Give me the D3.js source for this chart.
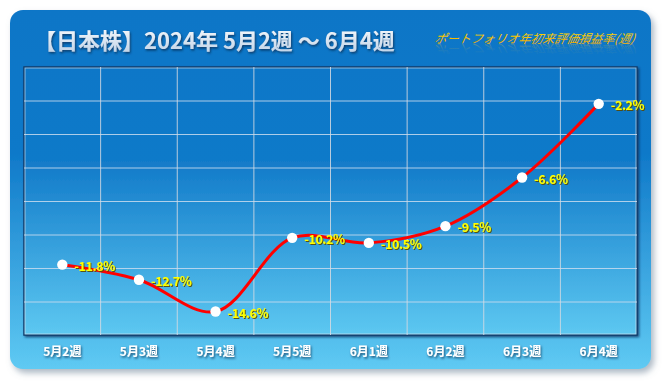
<!DOCTYPE html>
<html>
<head>
<meta charset="utf-8">
<script src="https://cdn.jsdelivr.net/npm/d3@7"></script>
<style>
  html, body { margin: 0; padding: 0; background: #ffffff; }
  svg { display: block; }
</style>
</head>
<body>
<div id="chart"></div>
<script>
const categories = ["5月2週", "5月3週", "5月4週", "5月5週", "6月1週", "6月2週", "6月3週", "6月4週"];
const values = [-11.8, -12.7, -14.6, -10.2, -10.5, -9.5, -6.6, -2.2];
const yTicks = [-16, -14, -12, -10, -8, -6, -4, -2, 0];
const titleText = "【日本株】2024年 5月2週 ～ 6月4週";
const subtitleText = "ポートフォリオ年初来評価損益率(週)";

const W = 666, H = 384;
const plot = { left: 24, right: 637, top: 67, bottom: 335 };

const svg = d3.select("#chart").append("svg")
  .attr("width", W).attr("height", H);

const defs = svg.append("defs");

const cg = defs.append("linearGradient").attr("id", "cardGrad")
  .attr("x1", 0).attr("y1", 0).attr("x2", 0).attr("y2", 1);
cg.append("stop").attr("offset", "0%").attr("stop-color", "#0c76c7");
cg.append("stop").attr("offset", "40%").attr("stop-color", "#0f79c9");
cg.append("stop").attr("offset", "100%").attr("stop-color", "#5fcaf3");

const pg = defs.append("linearGradient").attr("id", "plotGrad")
  .attr("x1", 0).attr("y1", 0).attr("x2", 0).attr("y2", 1);
pg.append("stop").attr("offset", "0%").attr("stop-color", "#0e77c8");
pg.append("stop").attr("offset", "35%").attr("stop-color", "#117ac9");
pg.append("stop").attr("offset", "100%").attr("stop-color", "#5dc8f1");

const tg = defs.append("linearGradient").attr("id", "titleGrad")
  .attr("x1", 0).attr("y1", 0).attr("x2", 0).attr("y2", 1);
tg.append("stop").attr("offset", "0%").attr("stop-color", "#ffffff");
tg.append("stop").attr("offset", "100%").attr("stop-color", "#bcd0e6");

const sg = defs.append("linearGradient").attr("id", "subGrad")
  .attr("x1", 0).attr("y1", 0).attr("x2", 0).attr("y2", 1);
sg.append("stop").attr("offset", "0%").attr("stop-color", "#ffe400");
sg.append("stop").attr("offset", "100%").attr("stop-color", "#f0a000");

const rg = defs.append("linearGradient").attr("id", "reflGrad")
  .attr("x1", 0).attr("y1", 0).attr("x2", 0).attr("y2", 1);
rg.append("stop").attr("offset", "0%").attr("stop-color", "#e8c040").attr("stop-opacity", 0);
rg.append("stop").attr("offset", "50%").attr("stop-color", "#e8c040").attr("stop-opacity", 0.08);
rg.append("stop").attr("offset", "100%").attr("stop-color", "#e8c040").attr("stop-opacity", 0.45);

const cs = defs.append("filter").attr("id", "cardShadow")
  .attr("x", "-5%").attr("y", "-5%").attr("width", "115%").attr("height", "115%");
cs.append("feDropShadow").attr("dx", 3).attr("dy", 4).attr("stdDeviation", 3)
  .attr("flood-color", "#6a7f95").attr("flood-opacity", 0.55);

const ts = defs.append("filter").attr("id", "textShadow")
  .attr("x", "-10%").attr("y", "-30%").attr("width", "120%").attr("height", "160%");
ts.append("feDropShadow").attr("dx", 1).attr("dy", 1.5).attr("stdDeviation", 1)
  .attr("flood-color", "#0a2a50").attr("flood-opacity", 0.8);

const ls = defs.append("filter").attr("id", "labelShadow")
  .attr("x", "-10%").attr("y", "-30%").attr("width", "120%").attr("height", "160%");
ls.append("feDropShadow").attr("dx", 1).attr("dy", 1).attr("stdDeviation", 0.6)
  .attr("flood-color", "#5a4a00").attr("flood-opacity", 0.9);

const ps = defs.append("filter").attr("id", "plotShadow")
  .attr("x", "-5%").attr("y", "-5%").attr("width", "110%").attr("height", "110%");
ps.append("feDropShadow").attr("dx", 1.5).attr("dy", 1.5).attr("stdDeviation", 1)
  .attr("flood-color", "#0a3060").attr("flood-opacity", 0.8);

// card
svg.append("rect")
  .attr("x", 10).attr("y", 10).attr("width", 641).attr("height", 359)
  .attr("rx", 13).attr("ry", 13)
  .attr("fill", "url(#cardGrad)")
  .attr("filter", "url(#cardShadow)");

// title
svg.append("text")
  .attr("x", 34).attr("y", 49)
  .attr("font-family", "'Noto Sans CJK JP', sans-serif")
  .attr("font-weight", "bold")
  .attr("font-size", 22)
  .attr("fill", "url(#titleGrad)")
  .attr("filter", "url(#textShadow)")
  .text(titleText);

// subtitle with reflection
const subY = 43;
const sub = svg.append("g");
sub.append("text")
  .attr("x", 434).attr("y", subY)
  .attr("font-family", "'Noto Sans CJK JP', sans-serif")
  .attr("font-style", "italic")
  .attr("font-size", 12)
  .attr("fill", "url(#subGrad)")
  .attr("transform", `skewX(-12) translate(${subY * Math.tan(12 * Math.PI / 180)},0)`)
  .text(subtitleText);
sub.append("text")
  .attr("x", 434).attr("y", subY)
  .attr("font-family", "'Noto Sans CJK JP', sans-serif")
  .attr("font-style", "italic")
  .attr("font-size", 12)
  .attr("fill", "url(#reflGrad)")
  .attr("transform", `translate(0,${2 * subY + 1}) scale(1,-1) skewX(-12) translate(${subY * Math.tan(12 * Math.PI / 180)},0)`)
  .text(subtitleText);

// scales
const x = d3.scaleBand().domain(categories).range([plot.left, plot.right]).padding(0);
const y = d3.scaleLinear().domain([-16, 0]).range([plot.bottom, plot.top]);
const cx = d => x(d) + x.bandwidth() / 2;

// plot background
svg.append("rect")
  .attr("x", plot.left).attr("y", plot.top)
  .attr("width", plot.right - plot.left).attr("height", plot.bottom - plot.top)
  .attr("fill", "url(#plotGrad)")
  .attr("stroke", "#123e6c").attr("stroke-width", 1.5)
  .attr("filter", "url(#plotShadow)");

// horizontal grid
const gy = svg.append("g")
  .attr("transform", `translate(${plot.left},0)`)
  .call(d3.axisLeft(y).tickValues(yTicks.slice(1, -1)).tickSize(-(plot.right - plot.left)).tickFormat(""));
gy.select(".domain").remove();
gy.selectAll("line").attr("stroke", "#c9dcee").attr("stroke-opacity", 0.85).attr("stroke-width", 1);

// vertical grid
const gx = svg.append("g")
  .attr("transform", `translate(0,${plot.bottom})`)
  .call(d3.axisBottom(x).tickSize(-(plot.bottom - plot.top)).tickFormat(""));
gx.select(".domain").remove();
gx.selectAll(".tick").attr("transform", d => `translate(${x(d)},0)`);
gx.selectAll(".tick").filter((d, i) => i === 0).remove();
gx.selectAll("line").attr("stroke", "#d6dbe2").attr("stroke-opacity", 0.85).attr("stroke-width", 1);

// plot border (light inner)
svg.append("rect")
  .attr("x", plot.left + 1).attr("y", plot.top + 1)
  .attr("width", plot.right - plot.left - 2).attr("height", plot.bottom - plot.top - 2)
  .attr("fill", "none")
  .attr("stroke", "#dfe8f2").attr("stroke-opacity", 0.6).attr("stroke-width", 1);

// x labels
const xa = svg.append("g")
  .attr("transform", `translate(0,${plot.bottom})`)
  .call(d3.axisBottom(x).tickSize(0).tickPadding(0));
xa.select(".domain").remove();
xa.selectAll("text")
  .attr("y", 21)
  .attr("dy", 0)
  .attr("font-family", "'Noto Sans CJK JP', sans-serif")
  .attr("font-weight", "bold")
  .attr("font-size", 12)
  .attr("fill", "#ffffff")
  .attr("filter", "url(#textShadow)");

// line
const data = categories.map((c, i) => ({ c, v: values[i] }));
const line = d3.line()
  .x(d => cx(d.c))
  .y(d => y(d.v))
  .curve(d3.curveCatmullRom.alpha(0.5));

svg.append("path")
  .datum(data)
  .attr("d", line)
  .attr("fill", "none")
  .attr("stroke", "#ff0000")
  .attr("stroke-width", 3)
  .attr("stroke-linejoin", "round");

// points
svg.append("g").selectAll("circle")
  .data(data).join("circle")
  .attr("cx", d => cx(d.c))
  .attr("cy", d => y(d.v))
  .attr("r", 5.2)
  .attr("fill", "#ffffff");

// labels
svg.append("g").selectAll("text")
  .data(data).join("text")
  .attr("x", d => cx(d.c) + 12)
  .attr("y", d => y(d.v) + 6)
  .attr("font-family", "'Noto Sans CJK JP', sans-serif")
  .attr("font-weight", "bold")
  .attr("font-size", 12.5)
  .attr("letter-spacing", -0.4)
  .attr("fill", "#ffff00")
  .attr("filter", "url(#labelShadow)")
  .text(d => d.v.toFixed(1) + "%");
</script>
</body>
</html>
